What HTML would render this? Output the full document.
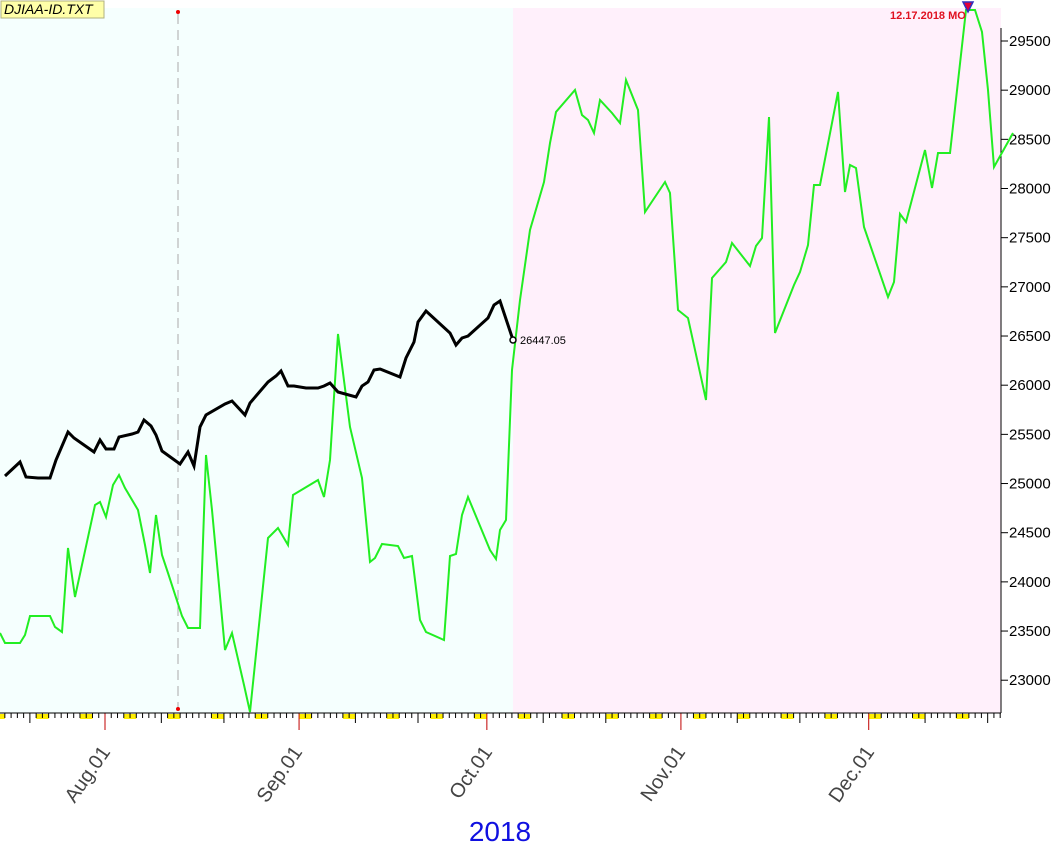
<!DOCTYPE html>
<html><head><meta charset="utf-8"><style>
html,body{margin:0;padding:0;background:#fff;}
svg{display:block;font-family:"Liberation Sans",sans-serif;}
</style></head><body>
<svg id="s" width="1063" height="849" viewBox="0 0 1063 849" xmlns="http://www.w3.org/2000/svg">
<rect x="0" y="8" width="513" height="705" fill="#f5fffe"/>
<rect x="513" y="8" width="488" height="705" fill="#fff0fb"/>
<line x1="178" y1="14" x2="178" y2="708" stroke="#aaa" stroke-dasharray="10,6"/>
<circle cx="178" cy="12" r="2" fill="#e00"/>
<circle cx="178" cy="709" r="2" fill="#e00"/>
<g id="ticks"></g>
<line x1="0" y1="713" x2="1001" y2="713" stroke="#000"/>
<line x1="1001" y1="28" x2="1001" y2="713" stroke="#000"/>
<g font-size="15" fill="#000" id="yl"></g>
<polyline fill="none" stroke="#22ee22" stroke-width="2" points="0,633 5,643 20,643 25,635 30,616 50,616 55,627 62,632 68,548 75,597 95,505 100,502 106,517 113,485 119,475 125,488 138,510 145,545 150,573 156,515 162,555 168,573 182,616 188,628 200,628 206,455 212,510 225,650 232,633 244,685 250,712 268,538 278,528 288,545 293,495 318,480 324,497 330,460 338,334 350,427 362,478 370,562 375,558 382,544 398,546 404,558 412,556 420,620 426,632 444,640 450,556 456,554 462,515 468,497 490,550 496,559 500,530 506,520 512,370 520,300 530,230 544,182 550,143 556,112 575,90 582,115 588,120 594,133 600,100 612,113 620,123 626,80 638,110 645,212 665,182 670,193 678,310 688,318 706,400 712,278 726,262 732,243 750,266 756,246 762,238 769,117 775,333 794,285 800,272 808,245 814,185 820,185 838,92 845,192 850,165 856,168 864,227 888,297 894,282 900,214 906,222 925,150 932,188 938,153 950,153 966,10 975,10 982,32 988,90 994,167 1013,133"/>
<polyline fill="none" stroke="#000" stroke-width="3" points="5,476 20,462 26,477 38,478 50,478 56,460 68,432 74,438 94,452 100,440 106,449 114,449 119,437 132,434 138,432 144,420 151,426 156,435 162,451 180,464 188,452 194,466 200,427 206,415 225,404 232,401 245,415 250,403 268,382 276,376 281,371 288,386 294,386 306,388 318,388 324,386 330,383 338,392 356,397 362,386 368,382 374,370 380,369 400,377 406,358 414,342 418,322 426,311 450,333 456,345 462,338 468,336 488,318 494,305 500,301 513,340"/>
<circle cx="513" cy="340" r="3" fill="#fff" stroke="#000" stroke-width="1.5"/>
<text x="520" y="344" font-size="11" fill="#000">26447.05</text>
<path d="M963,2 L973,2 L968,12 Z" fill="#e0003a" stroke="#3030c0" stroke-width="1.5"/>
<text x="890" y="19" font-size="11" font-weight="bold" fill="#e01020">12.17.2018 MO</text>
<rect x="1" y="1" width="103" height="17" fill="#ffffa8" stroke="#b0b080"/>
<text x="4" y="14" font-size="14" font-style="italic" fill="#000">DJIAA-ID.TXT</text>
<g font-size="20" fill="#444" id="xl"></g>
<text x="500" y="841" font-size="28" fill="#1010e0" text-anchor="middle">2018</text>
</svg>
<script>
var NS="http://www.w3.org/2000/svg",t=document.getElementById("ticks");
function el(n,a,p){var e=document.createElementNS(NS,n);for(var k in a)e.setAttribute(k,a[k]);(p||t).appendChild(e);return e;}
for(var d=-18;d<=155;d++){
 var x=105+d*6.26; if(x<-13||x>1001)continue;
 var dt=new Date(2018,7,1+d),dw=dt.getDay(),dm=dt.getDate();
 if(dw==6){var w=Math.min(12.5,1000-x); if(w>0) el("rect",{x:x,y:714,width:w,height:5,fill:"#ffee00"});}
 var len=5,col="#000";
 if(dm==1){len=17;col="#c00000";} else if(dm==10||dm==20){len=10;}
 if(x>=0) el("line",{x1:x,y1:713,x2:x,y2:713+len,stroke:col});
}
var yl=document.getElementById("yl");
for(var v=23000;v<=29500;v+=500){var y=41+(29500-v)/500*49.17;
 el("line",{x1:1001,y1:y,x2:1008,y2:y,stroke:"#000"});
 el("text",{x:1009,y:y+5},yl).textContent=v;}
var xl=document.getElementById("xl"),m=[["Aug.01",105],["Sep.01",297],["Oct.01",487],["Nov.01",680],["Dec.01",869]];
m.forEach(function(a){var X=a[1]+6,Y=752;var e=el("text",{x:X,y:Y,"text-anchor":"end",transform:"rotate(-55 "+X+" "+Y+")"},xl);e.textContent=a[0];});
</script>
</body></html>
